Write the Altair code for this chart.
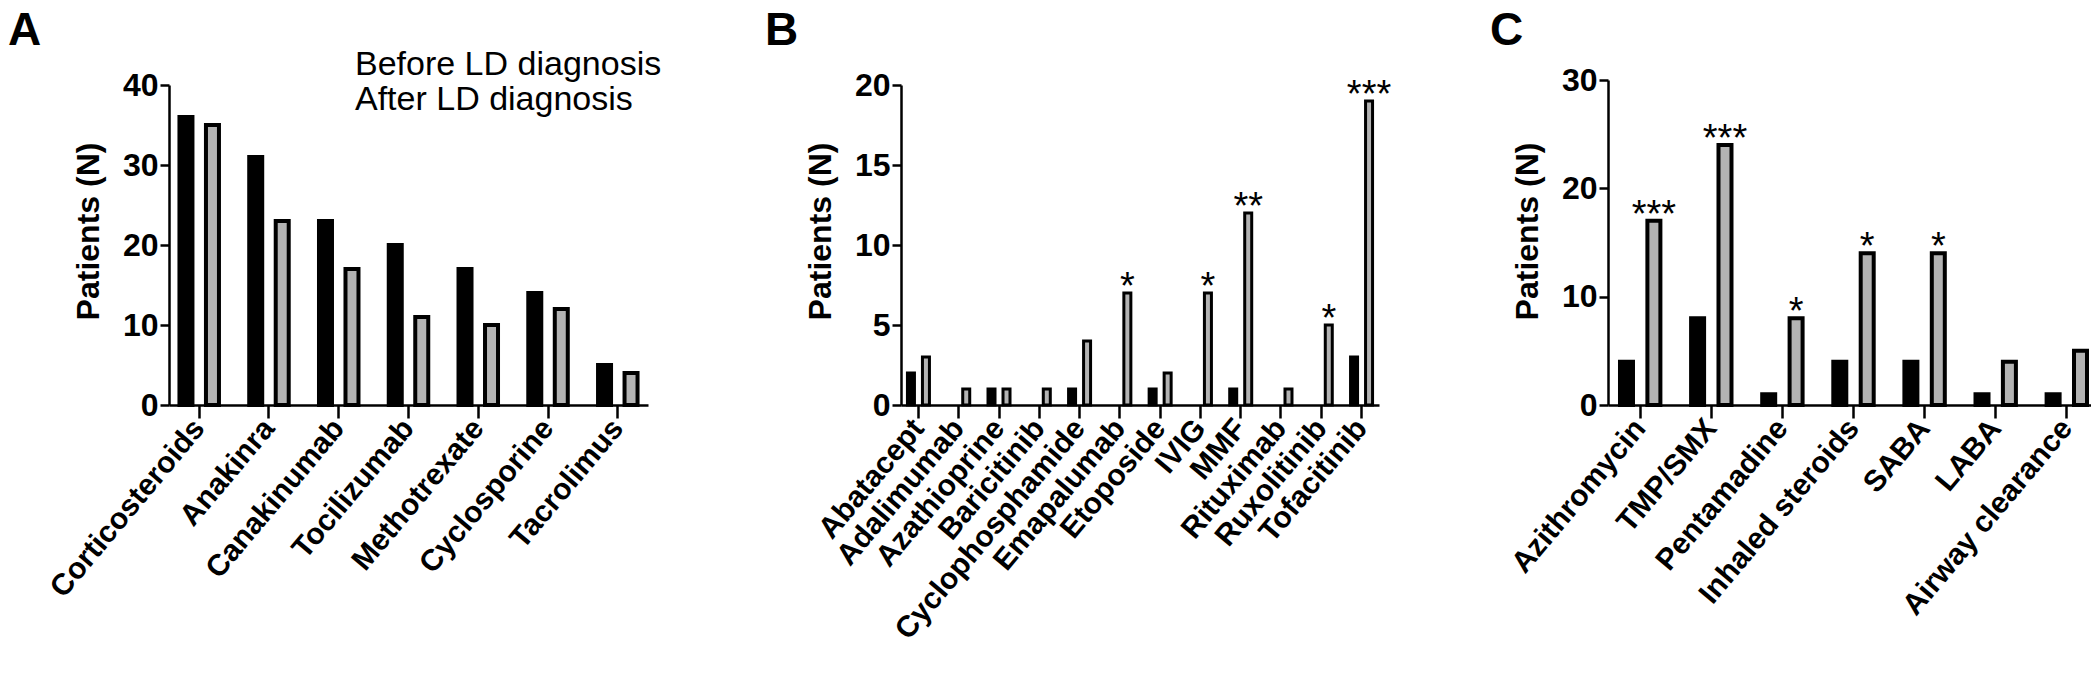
import altair as alt
import pandas as pd

FONT = "Liberation Sans"
BEFORE = "Before LD diagnosis"
AFTER = "After LD diagnosis"
GRAY = "#b3b3b3"

a_drugs = ["Corticosteroids", "Anakinra", "Canakinumab", "Tocilizumab",
           "Methotrexate", "Cyclosporine", "Tacrolimus"]
a_before = [36, 31, 23, 20, 17, 14, 5]
a_after = [35, 23, 17, 11, 10, 12, 4]
a_sig = ["", "", "", "", "", "", ""]

b_drugs = ["Abatacept", "Adalimumab", "Azathioprine", "Baricitinib",
           "Cyclophosphamide", "Emapalumab", "Etoposide", "IVIG", "MMF",
           "Rituximab", "Ruxolitinib", "Tofacitinib"]
b_before = [2, 0, 1, 0, 1, 0, 1, 0, 1, 0, 0, 3]
b_after = [3, 1, 1, 1, 4, 7, 2, 7, 12, 1, 5, 19]
b_sig = ["", "", "", "", "", "*", "", "*", "**", "", "*", "***"]

c_drugs = ["Azithromycin", "TMP/SMX", "Pentamadine", "Inhaled steroids",
           "SABA", "LABA", "Airway clearance"]
c_before = [4, 8, 1, 4, 4, 1, 1]
c_after = [17, 24, 8, 14, 14, 4, 5]
c_sig = ["***", "***", "*", "*", "*", "", ""]

y_title = "Patients (N)"


def make_df(drugs, before, after, sig):
    rows = []
    for d, b, a, s in zip(drugs, before, after, sig):
        rows.append({"drug": d, "series": BEFORE, "value": b, "sig": ""})
        rows.append({"drug": d, "series": AFTER, "value": a, "sig": s})
    return pd.DataFrame(rows)


def text_layer(txt, x, y, size, weight="normal"):
    return alt.Chart(pd.DataFrame({"t": [txt]})).mark_text(
        fontSize=size, fontWeight=weight, align="left", baseline="alphabetic",
        font=FONT, color="black"
    ).encode(x=alt.value(x), y=alt.value(y), text="t:N")


def panel(letter, drugs, before, after, sig, ymax, yticks, slot_w, xr_w,
          pi, po, align, bar_w, half, stroke, letter_x, yrange,
          legend=False):
    df = make_df(drugs, before, after, sig)
    base = alt.Chart(df)

    x_axis = alt.Axis(title=None, labelAngle=-50, labelAlign="right",
                      labelBaseline="middle", labelFontSize=30,
                      labelFontWeight="bold", labelPadding=5, tickSize=13,
                      tickWidth=2.5, domainWidth=2.5, labelOverlap=False,
                      labelLimit=0, labelColor="black", tickColor="black",
                      domainColor="black", labelFont=FONT)
    x_scale = alt.Scale(domain=drugs, range=[0, xr_w], paddingInner=pi,
                        paddingOuter=po, align=align)
    y_axis = alt.Axis(title=y_title, values=yticks, grid=False,
                      labelFontSize=32, labelFontWeight="bold",
                      labelPadding=2, tickSize=9, tickWidth=2.5,
                      domainWidth=2.5, titleFontSize=32,
                      titleFontWeight="bold", titlePadding=17,
                      titleY=146, titleAnchor="middle",
                      labelColor="black", tickColor="black",
                      domainColor="black", titleColor="black",
                      labelFont=FONT, titleFont=FONT)
    y_scale = alt.Scale(domain=[0, ymax], range=yrange, nice=False, zero=True)
    X = alt.X("drug:N", sort=drugs, scale=x_scale, axis=x_axis)
    Y = alt.Y("value:Q", scale=y_scale, axis=y_axis)

    def bars(series, fill, off):
        return base.transform_filter(
            f"datum.series == '{series}' && datum.value > 0"
        ).mark_bar(width=bar_w, xOffset=off, fill=fill, stroke="black",
                   strokeWidth=stroke).encode(x=X, y=Y)

    layers = [bars(BEFORE, "#000000", -half), bars(AFTER, GRAY, half)]

    if any(s for s in sig):
        stars = base.transform_filter("datum.sig != ''").mark_text(
            fontSize=38, baseline="alphabetic", dy=6, dx=half,
            color="black", font=FONT
        ).encode(x=X, y=Y, text="sig:N")
        layers.append(stars)

    layers.append(text_layer(letter, letter_x, -40, 46, "bold"))

    if legend:
        layers.append(text_layer(BEFORE, 186, -10, 34))
        layers.append(text_layer(AFTER, 186, 25, 34))

    return alt.layer(*layers).properties(width=slot_w, height=320)


pA = panel("A", a_drugs, a_before, a_after, a_sig, 40, [0, 10, 20, 30, 40],
           732, 479, 0.434, 0.15, 0.5, 13, 13.25, 4, -161, [320, 0],
           legend=True)
pB = panel("B", b_drugs, b_before, b_after, b_sig, 20, [0, 5, 10, 15, 20],
           707, 478, 0.454, 0.16, 0.5, 7, 7.5, 3, -136, [320, 0])
pC = panel("C", c_drugs, c_before, c_after, c_sig, 30, [0, 10, 20, 30],
           483, 483, 0.432, 0.1125, 0.75, 13, 13.7, 4, -118, [320, -5])

chart = alt.hconcat(pA, pB, pC, spacing=0, bounds="flush").properties(
    padding={"left": 0, "top": 0, "right": 0, "bottom": 0}
).configure_view(stroke=None).configure_text(font=FONT)

chart.save("out.html", embed_options={"renderer": "svg", "actions": False})
